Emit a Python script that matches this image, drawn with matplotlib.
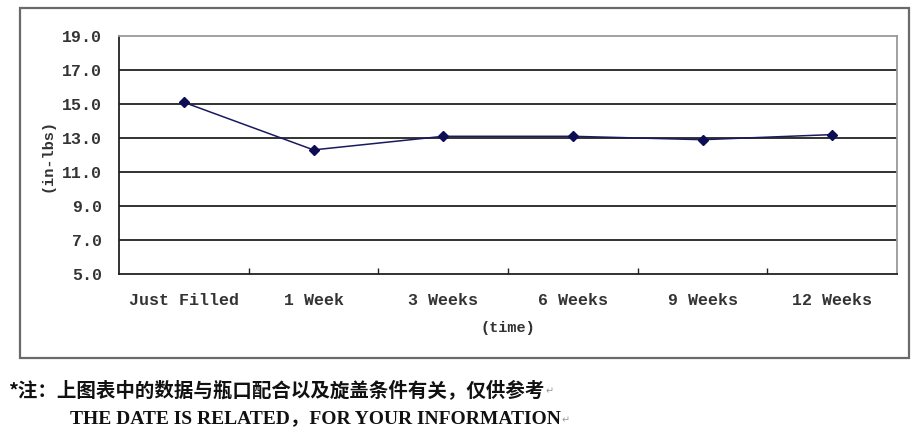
import matplotlib
matplotlib.use("Agg")
import matplotlib.pyplot as plt
import numpy as np
from matplotlib.patches import Rectangle

# values
categories = ["Just Filled", "1 Week", "3 Weeks", "6 Weeks", "9 Weeks", "12 Weeks"]
torque = [15.1, 12.3, 13.1, 13.1, 12.9, 13.2]
y_ticks = [5.0, 7.0, 9.0, 11.0, 13.0, 15.0, 17.0, 19.0]
note_cn = "*注：上图表中的数据与瓶口配合以及旋盖条件有关，仅供参考"
note_en = "THE DATE IS RELATED，FOR YOUR INFORMATION"

W, H = 916, 438
MONO = ["Liberation Mono", "DejaVu Sans Mono"]

fig = plt.figure(figsize=(W / 100, H / 100), dpi=100)
fig.patch.set_facecolor("white")

# outer chart frame
fig.patches.append(Rectangle((20 / W, 1 - 358 / H), (909 - 20) / W, (358 - 8) / H,
                             transform=fig.transFigure, fill=False,
                             edgecolor="#6a6a6a", linewidth=1.6))

ax = fig.add_axes([119 / W, 1 - 274 / H, (897 - 119) / W, (274 - 36) / H])
x = np.arange(len(categories)) + 0.5
ax.set_xlim(0, len(categories))
ax.set_ylim(5, 19)

for v in y_ticks[1:-1]:
    ax.axhline(v, color="#222222", linewidth=1.3, zorder=1)

ax.plot(x, torque, color="#1a1a5e", linewidth=1.1, marker="D", markersize=5.5,
        markerfacecolor="#0d0d55", markeredgecolor="#0d0d55", zorder=3)

ax.set_yticks(y_ticks)
ax.set_yticklabels([f"{v:.1f}" for v in y_ticks], family=MONO, fontsize=12,
                   fontweight="bold", color="#333333")
ax.tick_params(axis="y", length=0, pad=12)

ax.set_xticks(np.arange(1, len(categories)))
ax.set_xticklabels([])
ax.tick_params(axis="x", which="major", direction="in", length=4, width=1, color="#222")
ax.set_xticks(x, minor=True)
ax.set_xticklabels(categories, minor=True, family=MONO, fontsize=12,
                   fontweight="bold", color="#333333")
ax.tick_params(axis="x", which="minor", length=0, pad=14)

for side in ["left", "bottom"]:
    ax.spines[side].set_color("#222222")
    ax.spines[side].set_linewidth(1.3)
for side in ["top", "right"]:
    ax.spines[side].set_color("#9a9a9a")
    ax.spines[side].set_linewidth(1.3)

ax.set_xlabel("(time)", family=MONO, fontsize=11, fontweight="bold",
              color="#333333", labelpad=9)
ax.set_ylabel("(in-lbs)", family=MONO, fontsize=11, fontweight="bold",
              color="#333333", labelpad=6)

# notes under the chart
t1 = fig.text(8 / W, 1 - 390 / H, note_cn, family=["Noto Sans CJK SC", "DejaVu Sans"],
              fontsize=14, fontweight="bold", color="#111111", va="center", ha="left")
t2 = fig.text(70 / W, 1 - 419 / H, note_en,
              family=["Liberation Serif", "Noto Sans CJK SC"],
              fontsize=14, fontweight="bold", color="#111111", va="center", ha="left")

# Word paragraph marks after each line
fig.canvas.draw()
inv = fig.transFigure.inverted()
for t in (t1, t2):
    bb = t.get_window_extent()
    x1, _ = inv.transform((bb.x1 + 1, 0))
    y0 = t.get_position()[1]
    fig.text(x1, y0 - 0.004, "↵", family="DejaVu Sans", fontsize=7,
             color="#999999", va="center", ha="left")

fig.savefig("out.png", dpi=100, facecolor="white")
